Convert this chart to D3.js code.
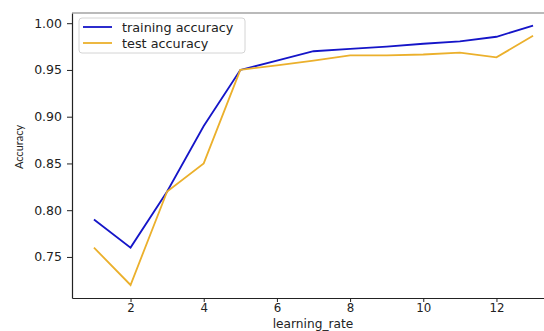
<!DOCTYPE html>
<html>
<head>
<meta charset="utf-8">
<script src="https://cdn.jsdelivr.net/npm/d3@7"></script>
<style>
  body { margin: 0; background: #fff; }
  svg { display: block; }
  .tick text { font-family: "DejaVu Sans", sans-serif; fill: #222; }
</style>
</head>
<body>
<div id="chart"></div>
<script>
// learning rate values on the x axis
const learningRates = [1, 2, 3, 4, 5, 6, 7, 8, 9, 10, 11, 12, 13];
const trainAcc = [0.79, 0.76, 0.82, 0.89, 0.95, 0.96, 0.97, 0.9725, 0.975, 0.978, 0.9805, 0.9855, 0.9975];
const testAcc = [0.76, 0.72, 0.82, 0.85, 0.95, 0.955, 0.96, 0.9655, 0.9655, 0.9665, 0.9685, 0.9635, 0.9865];
const xTicks = [2, 4, 6, 8, 10, 12];
const yTicks = [0.75, 0.80, 0.85, 0.90, 0.95, 1.00];
const seriesNames = ['training accuracy', 'test accuracy'];

const width = 544, height = 331;
const margins = {top: 13, right: -11, bottom: 33, left: 72};
const chartWidth = width - margins.left - margins.right;
const chartHeight = height - margins.top - margins.bottom;

const svg = d3.select('#chart').append('svg')
  .attr('width', width)
  .attr('height', height);

const chart = svg.append('g')
  .attr('transform', `translate(${margins.left}, ${margins.top})`);

const xScale = d3.scaleLinear()
  .domain([0.4, 13.6])
  .range([0, chartWidth]);

const yScale = d3.scaleLinear()
  .domain([0.7061, 1.0109])
  .range([chartHeight, 0]);

// x axis
const xAxis = chart.append('g')
  .attr('transform', `translate(0, ${chartHeight})`)
  .call(d3.axisBottom(xScale).tickValues(xTicks).tickSizeInner(4).tickSizeOuter(0)
    .tickPadding(1.5).tickFormat(d3.format('d')));
xAxis.select('.domain').attr('stroke', '#222').attr('stroke-width', 1.2);
xAxis.selectAll('.tick line').attr('stroke', '#222');
xAxis.selectAll('.tick text').style('font-size', '11.8px');

// y axis
const yAxis = chart.append('g')
  .call(d3.axisLeft(yScale).tickValues(yTicks).tickSizeInner(5).tickSizeOuter(0)
    .tickPadding(5).tickFormat(d3.format('.2f')));
yAxis.select('.domain').attr('stroke', '#222').attr('stroke-width', 1.2);
yAxis.selectAll('.tick line').attr('stroke', '#222');
yAxis.selectAll('.tick text').style('font-size', '12.5px');

// top spine
chart.append('line')
  .attr('x1', 0).attr('x2', chartWidth)
  .attr('y1', 0).attr('y2', 0)
  .attr('stroke', '#777').attr('stroke-width', 1.2);

const line = d3.line()
  .x(d => xScale(d[0]))
  .y(d => yScale(d[1]));

const colors = ['#1515c8', '#ebb02c'];
[trainAcc, testAcc].forEach((vals, i) => {
  chart.append('path')
    .datum(learningRates.map((r, j) => [r, vals[j]]))
    .attr('fill', 'none')
    .attr('stroke', colors[i])
    .attr('stroke-width', 1.8)
    .attr('d', line);
});

// legend
const legend = chart.append('g').attr('transform', 'translate(7, 5)');
legend.append('rect')
  .attr('width', 166).attr('height', 35)
  .attr('rx', 3)
  .attr('fill', '#fff').attr('fill-opacity', 0.8)
  .attr('stroke', '#d4d4d4');
seriesNames.forEach((name, i) => {
  const y = 9 + i * 16;
  legend.append('line')
    .attr('x1', 4).attr('x2', 33)
    .attr('y1', y).attr('y2', y)
    .attr('stroke', colors[i]).attr('stroke-width', 1.8);
  legend.append('text')
    .attr('x', 43).attr('y', y + 4.5)
    .style('font-family', '"DejaVu Sans", sans-serif')
    .style('font-size', '12.8px')
    .attr('fill', '#222')
    .text(name);
});

// axis labels
svg.append('text')
  .attr('x', 313).attr('y', 327.5)
  .attr('text-anchor', 'middle')
  .style('font-family', '"DejaVu Sans", sans-serif')
  .style('font-size', '12.2px')
  .attr('fill', '#222')
  .text('learning_rate');

svg.append('text')
  .attr('transform', 'translate(23, 147) rotate(-90)')
  .attr('text-anchor', 'middle')
  .style('font-family', 'Lato, sans-serif')
  .style('font-size', '11px')
  .attr('fill', '#222')
  .text('Accuracy');
</script>
</body>
</html>
